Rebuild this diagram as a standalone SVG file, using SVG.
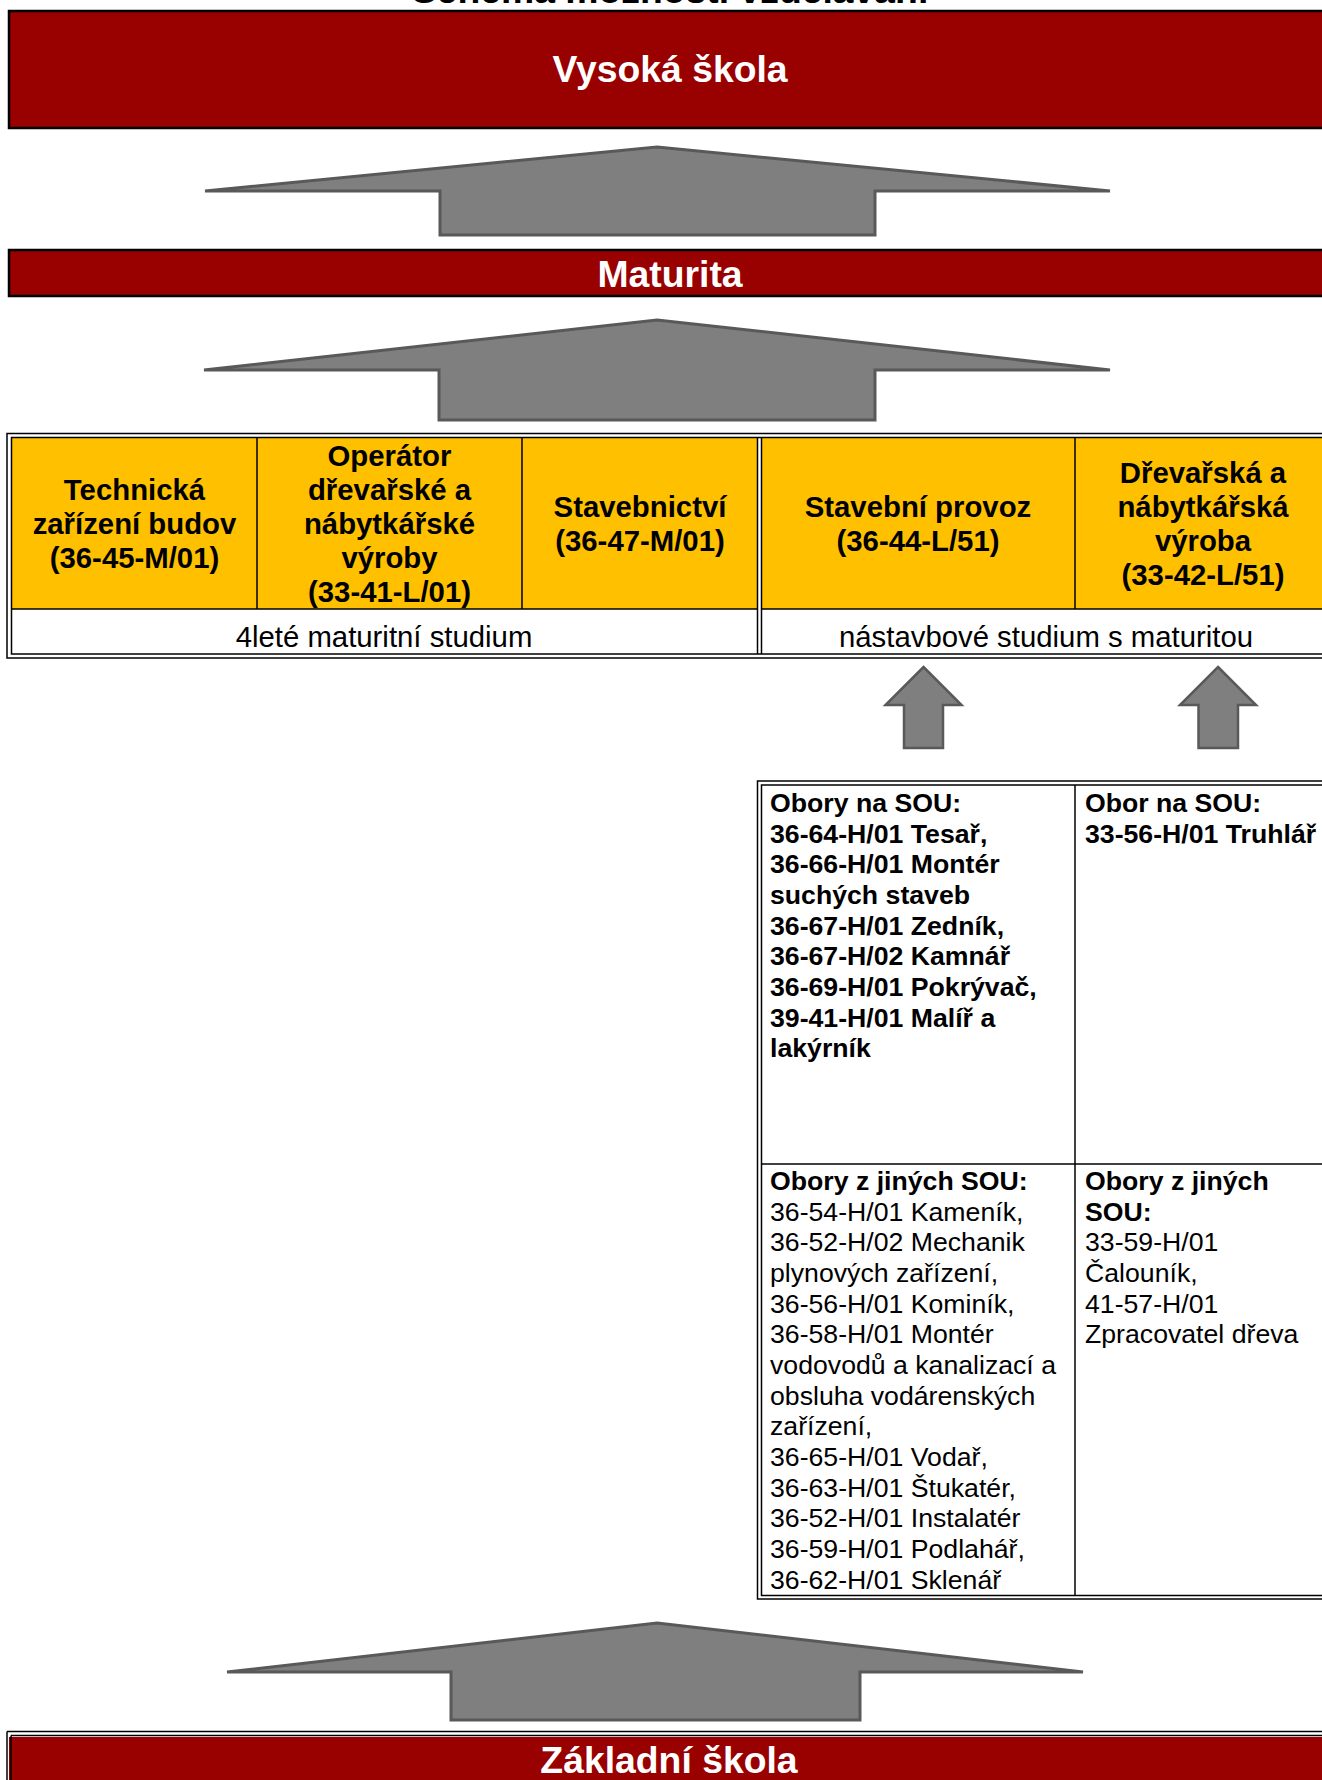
<svg xmlns="http://www.w3.org/2000/svg" width="1322" height="1780" viewBox="0 0 1322 1780">
<style>
.red{fill:#990000;stroke:#000;stroke-width:2.5}
.arw{fill:#7f7f7f;stroke:#595959;stroke-width:3;stroke-linejoin:miter}
.sarw{fill:#7f7f7f;stroke:#595959;stroke-width:2.5;stroke-linejoin:miter}
.ttl{font-family:"Liberation Sans",Arial,sans-serif;font-weight:bold;font-size:37.33px;fill:#000;text-anchor:middle}
.h{font-family:"Liberation Sans",Arial,sans-serif;font-weight:bold;font-size:37.33px;fill:#fff;text-anchor:middle}
.th{font-family:"Liberation Sans",Arial,sans-serif;font-weight:bold;font-size:29.33px;fill:#000;text-anchor:middle}
.tw{font-family:"Liberation Sans",Arial,sans-serif;font-size:29.33px;fill:#000;text-anchor:middle}
.tb{font-family:"Liberation Sans",Arial,sans-serif;font-weight:bold;font-size:26.67px;fill:#000}
.tr{font-family:"Liberation Sans",Arial,sans-serif;font-size:26.67px;fill:#000}
.ln{stroke:#000;stroke-width:1.5;fill:none}
.yel{fill:#ffc000}
</style>
<rect x="0" y="0" width="1322" height="1780" fill="#fff"/>
<text class="ttl" x="670" y="3">Schéma možností vzdělávání</text>

<g id="vysoka-skola">
<rect class="red" x="9" y="11" width="1330" height="117"/>
<text class="h" x="670" y="82">Vysoká škola</text>
</g>

<g id="maturita">
<rect class="red" x="9" y="250" width="1330" height="46"/>
<text class="h" x="670" y="287">Maturita</text>
</g>

<g id="maturitni-obory">
<rect class="yel" x="12" y="438" width="745" height="171"/>
<rect class="yel" x="762" y="438" width="575" height="171"/>
<rect x="7" y="433.5" width="1340" height="224.5" class="ln"/>
<rect x="11.5" y="437.5" width="1330" height="216.5" class="ln"/>
<line class="ln" x1="757.5" y1="437.5" x2="757.5" y2="654"/>
<line class="ln" x1="761.5" y1="437.5" x2="761.5" y2="654"/>
<line class="ln" x1="257" y1="437.5" x2="257" y2="609"/>
<line class="ln" x1="522" y1="437.5" x2="522" y2="609"/>
<line class="ln" x1="1075" y1="437.5" x2="1075" y2="609"/>
<line class="ln" x1="11.5" y1="609" x2="757.5" y2="609"/>
<line class="ln" x1="761.5" y1="609" x2="1340" y2="609"/>
<text class="th" x="134.5"><tspan x="134.5" y="499.5">Technická</tspan><tspan x="134.5" y="533.5">zařízení budov</tspan><tspan x="134.5" y="567.5">(36-45-M/01)</tspan></text>
<text class="th" x="389.5"><tspan x="389.5" y="465.5">Operátor</tspan><tspan x="389.5" y="499.5">dřevařské a</tspan><tspan x="389.5" y="533.5">nábytkářské</tspan><tspan x="389.5" y="567.5">výroby</tspan><tspan x="389.5" y="601.5">(33-41-L/01)</tspan></text>
<text class="th" x="640"><tspan x="640" y="516.5">Stavebnictví</tspan><tspan x="640" y="550.5">(36-47-M/01)</tspan></text>
<text class="th" x="918"><tspan x="918" y="516.5">Stavební provoz</tspan><tspan x="918" y="550.5">(36-44-L/51)</tspan></text>
<text class="th" x="1203"><tspan x="1203" y="482.5">Dřevařská a</tspan><tspan x="1203" y="516.5">nábytkářská</tspan><tspan x="1203" y="550.5">výroba</tspan><tspan x="1203" y="584.5">(33-42-L/51)</tspan></text>
<text class="tw" x="384" y="647">4leté maturitní studium</text>
<text class="tw" x="1046" y="647">nástavbové studium s maturitou</text>
</g>

<g id="obory-sou">
<rect x="757.5" y="781" width="590" height="818" class="ln"/>
<rect x="761.5" y="785" width="580" height="810.5" class="ln"/>
<line class="ln" x1="1075" y1="785" x2="1075" y2="1595.5"/>
<line class="ln" x1="761.5" y1="1164" x2="1342" y2="1164"/>
<text class="tb"><tspan x="770" y="812">Obory na SOU:</tspan><tspan x="770" y="842.7">36-64-H/01 Tesař,</tspan><tspan x="770" y="873.3">36-66-H/01 Montér</tspan><tspan x="770" y="904">suchých staveb</tspan><tspan x="770" y="934.7">36-67-H/01 Zedník,</tspan><tspan x="770" y="965.3">36-67-H/02 Kamnář</tspan><tspan x="770" y="996">36-69-H/01 Pokrývač,</tspan><tspan x="770" y="1026.7">39-41-H/01 Malíř a</tspan><tspan x="770" y="1057.3">lakýrník</tspan></text>
<text class="tb"><tspan x="1085" y="812">Obor na SOU:</tspan><tspan x="1085" y="842.7">33-56-H/01 Truhlář</tspan></text>
<text class="tb" x="770" y="1190">Obory z jiných SOU:</text>
<text class="tr"><tspan x="770" y="1220.7">36-54-H/01 Kameník,</tspan><tspan x="770" y="1251.3">36-52-H/02 Mechanik</tspan><tspan x="770" y="1282">plynových zařízení,</tspan><tspan x="770" y="1312.7">36-56-H/01 Kominík,</tspan><tspan x="770" y="1343.3">36-58-H/01 Montér</tspan><tspan x="770" y="1374">vodovodů a kanalizací a</tspan><tspan x="770" y="1404.7">obsluha vodárenských</tspan><tspan x="770" y="1435.3">zařízení,</tspan><tspan x="770" y="1466">36-65-H/01 Vodař,</tspan><tspan x="770" y="1496.7">36-63-H/01 Štukatér,</tspan><tspan x="770" y="1527.3">36-52-H/01 Instalatér</tspan><tspan x="770" y="1558">36-59-H/01 Podlahář,</tspan><tspan x="770" y="1588.7">36-62-H/01 Sklenář</tspan></text>
<text class="tb"><tspan x="1085" y="1190">Obory z jiných</tspan><tspan x="1085" y="1220.7">SOU:</tspan></text>
<text class="tr"><tspan x="1085" y="1251.3">33-59-H/01</tspan><tspan x="1085" y="1282">Čalouník,</tspan><tspan x="1085" y="1312.7">41-57-H/01</tspan><tspan x="1085" y="1343.3">Zpracovatel dřeva</tspan></text>
</g>

<g id="zakladni-skola">
<rect x="9" y="1737" width="1330" height="50" fill="#990000"/>
<line class="ln" x1="7" y1="1731.5" x2="1340" y2="1731.5"/>
<line class="ln" x1="11" y1="1735.5" x2="1340" y2="1735.5"/>
<line class="ln" x1="7" y1="1731.5" x2="7" y2="1780"/>
<line class="ln" x1="11" y1="1735.5" x2="11" y2="1780"/>
<text class="h" x="669" y="1773">Základní škola</text>
</g>

<g id="connectors">
<polygon class="arw" points="657,147 1110,191 875,191 875,235 440,235 440,191 205,191"/>
<polygon class="arw" points="657,320 1110,370 875,370 875,420 439,420 439,370 204,370"/>
<polygon class="sarw" points="923.5,667 961.5,705 943,705 943,748 904,748 904,705 885.5,705"/>
<polygon class="sarw" points="1218,667 1256,705 1238,705 1238,748 1198.5,748 1198.5,705 1180,705"/>
<polygon class="arw" points="657,1623 1083,1672 860,1672 860,1720 451,1720 451,1672 227,1672"/>
</g>
</svg>
